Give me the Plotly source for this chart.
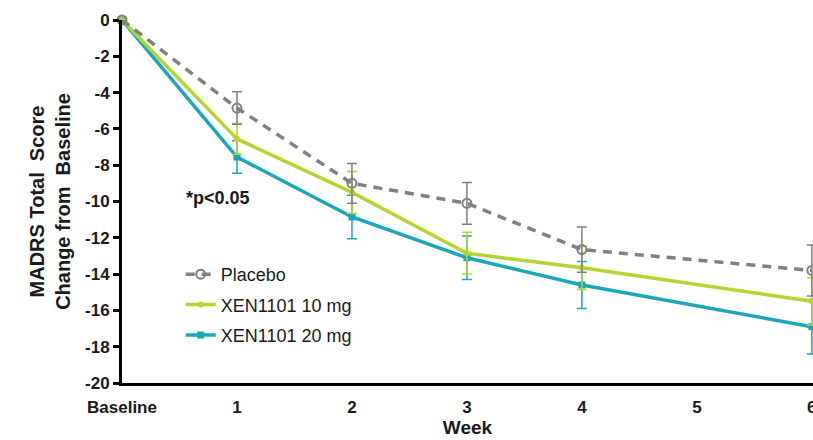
import plotly.graph_objects as go

weeks = [0, 1, 2, 3, 4, 6]
tick_vals = [0, 1, 2, 3, 4, 5, 6]
tick_text = ["Baseline", "1", "2", "3", "4", "5", "6"]
y_tick_vals = [0, -2, -4, -6, -8, -10, -12, -14, -16, -18, -20]
y_tick_text = ["0", "-2", "-4", "-6", "-8", "-10", "-12", "-14", "-16", "-18", "-20"]

placebo = [0, -4.85, -9.0, -10.1, -12.65, -13.8]
placebo_err = [0, 0.9, 1.1, 1.15, 1.25, 1.4]
xen10 = [0, -6.55, -9.5, -12.85, -13.65, -15.5]
xen10_err = [0, 0.85, 1.15, 1.15, 1.2, 1.3]
xen20 = [0, -7.55, -10.85, -13.1, -14.6, -16.9]
xen20_err = [0, 0.9, 1.2, 1.2, 1.3, 1.5]

GREY = "#808080"
GREEN = "#b6d42e"
TEAL = "#1aa7ba"
FONT = "Arial, Liberation Sans, sans-serif"
DARK = "#1a1a1a"

fig = go.Figure()

fig.add_trace(go.Scatter(
    x=weeks, y=xen20, name="XEN1101 20 mg", mode="lines+markers",
    line=dict(color=TEAL, width=3.5),
    marker=dict(symbol="square", size=7, color=TEAL),
    error_y=dict(type="data", array=xen20_err, color=TEAL, thickness=1.5, width=5),
    legendgroup="c", legendrank=3, cliponaxis=False,
))
fig.add_trace(go.Scatter(
    x=weeks, y=xen10, name="XEN1101 10 mg", mode="lines+markers",
    line=dict(color=GREEN, width=3.5),
    marker=dict(symbol="circle", size=6, color=GREEN),
    error_y=dict(type="data", array=xen10_err, color=GREEN, thickness=1.5, width=5),
    legendgroup="b", legendrank=2, cliponaxis=False,
))
fig.add_trace(go.Scatter(
    x=weeks, y=placebo, name="Placebo", mode="lines+markers",
    line=dict(color=GREY, width=3.5, dash="9px,7px"),
    marker=dict(symbol="circle-open", size=9, color=GREY, line=dict(width=2)),
    error_y=dict(type="data", array=placebo_err, color=GREY, thickness=1.5, width=5),
    legendgroup="a", legendrank=1, cliponaxis=False,
))

fig.add_annotation(
    x=0.54, y=-9.8, xref="x", yref="y", text="*p&lt;0.05",
    showarrow=False, xanchor="left", yanchor="middle",
    font=dict(family=FONT, size=18, color=DARK, weight="bold"),
)

fig.update_layout(
    width=813, height=440,
    margin=dict(l=122, r=0, t=20, b=57),
    paper_bgcolor="white", plot_bgcolor="white",
    font=dict(family=FONT, color=DARK),
    showlegend=True,
    legend=dict(
        x=0.085, y=0.35, xanchor="left", yanchor="top",
        font=dict(family=FONT, size=18, color=DARK),
        traceorder="grouped", tracegroupgap=4,
        bgcolor="rgba(0,0,0,0)", itemwidth=30,
    ),
    xaxis=dict(
        range=[0, 6.01], tickvals=tick_vals, ticktext=tick_text,
        showgrid=False, zeroline=False, showline=True, linecolor="black", linewidth=3,
        ticks="", ticklabeloverflow="allow", ticklabelstandoff=7,
        tickfont=dict(family=FONT, size=17, color=DARK, weight="bold"),
        title=dict(text="Week", font=dict(family=FONT, size=19, color=DARK, weight="bold"), standoff=4),
        automargin=False,
    ),
    yaxis=dict(
        range=[-20, 0], tickvals=y_tick_vals, ticktext=y_tick_text,
        showgrid=False, zeroline=False, showline=True, linecolor="black", linewidth=3,
        ticks="outside", ticklen=6, tickwidth=3, tickcolor="black",
        tickfont=dict(family=FONT, size=17, color=DARK, weight="bold"),
        title=dict(text="MADRS Total  Score<br>Change from  Baseline",
                   font=dict(family=FONT, size=20, color=DARK, weight="bold"), standoff=10),
        automargin=False,
    ),
)

fig.write_html("out.html")
